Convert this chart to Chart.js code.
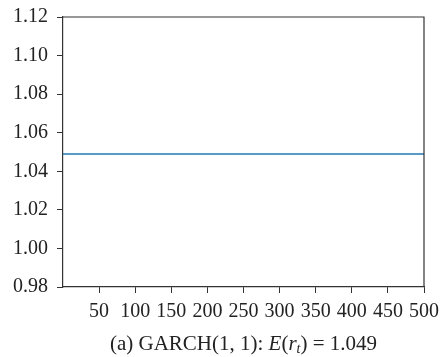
<!DOCTYPE html>
<html>
<head>
<meta charset="utf-8">
<script src="https://cdn.jsdelivr.net/npm/chart.js@4/dist/chart.umd.min.js"></script>
<style>
  html, body { margin: 0; padding: 0; background: #fff; }
  #wrap { position: relative; width: 441px; height: 357px; }
  #caption {
    position: absolute; left: 43px; width: 401px; top: 331px;
    text-align: center; font-family: "Liberation Serif", serif; font-size: 21px; color: #222;
    white-space: nowrap;
  }
  #caption sub { font-size: 14px; vertical-align: -3px; line-height: 0; }
</style>
</head>
<body>
<div id="wrap">
  <canvas id="chart" width="441" height="357"></canvas>
  <div id="caption">(a) GARCH(1, 1): <i>E</i>(<i>r<sub>t</sub></i>) = 1.049</div>
</div>
<script>
// series: constant expected return over the sample
const tValues = [0, 500];
const meanValues = [1.049, 1.049];
const xTicks = [50, 100, 150, 200, 250, 300, 350, 400, 450, 500];
const yTicks = [0.98, 1.00, 1.02, 1.04, 1.06, 1.08, 1.10, 1.12];

const font = { family: 'Liberation Serif', size: 20 };

// top and right spines
const frame = {
  id: 'frame',
  afterDraw(chart) {
    const { ctx, chartArea: a } = chart;
    ctx.save();
    ctx.strokeStyle = '#333';
    ctx.lineWidth = 1.2;
    ctx.beginPath();
    ctx.moveTo(a.left, a.top);
    ctx.lineTo(a.right, a.top);
    ctx.lineTo(a.right, a.bottom);
    ctx.stroke();
    ctx.restore();
  }
};

new Chart(document.getElementById('chart'), {
  type: 'line',
  data: {
    datasets: [{
      data: tValues.map((t, i) => ({ x: t, y: meanValues[i] })),
      borderColor: '#1f77b4',
      borderWidth: 1.5,
      pointRadius: 0,
      fill: false
    }]
  },
  options: {
    responsive: false,
    animation: false,
    layout: { padding: { left: 0, right: 17, top: 17, bottom: 30 } },
    plugins: { legend: { display: false }, tooltip: { enabled: false } },
    scales: {
      x: {
        type: 'linear',
        min: 0,
        max: 500,
        afterBuildTicks: s => { s.ticks = xTicks.map(v => ({ value: v })); },
        afterFit: s => { s.height = 40; s.paddingLeft = 0; s.paddingRight = 0; },
        border: { color: '#333', width: 1.2 },
        grid: { drawOnChartArea: false, drawTicks: true, tickLength: 6, color: '#333' },
        ticks: { font, color: '#222', padding: 7, maxRotation: 0, autoSkip: false }
      },
      y: {
        min: 0.98,
        max: 1.12,
        afterBuildTicks: s => { s.ticks = yTicks.map(v => ({ value: v })); },
        afterFit: s => { s.width = 63; s.paddingTop = 0; s.paddingBottom = 0; },
        border: { color: '#333', width: 1.2 },
        grid: { drawOnChartArea: false, drawTicks: true, tickLength: 6, color: '#333' },
        ticks: { font, color: '#222', padding: 9, callback: v => v.toFixed(2) }
      }
    }
  },
  plugins: [frame]
});
</script>
</body>
</html>
